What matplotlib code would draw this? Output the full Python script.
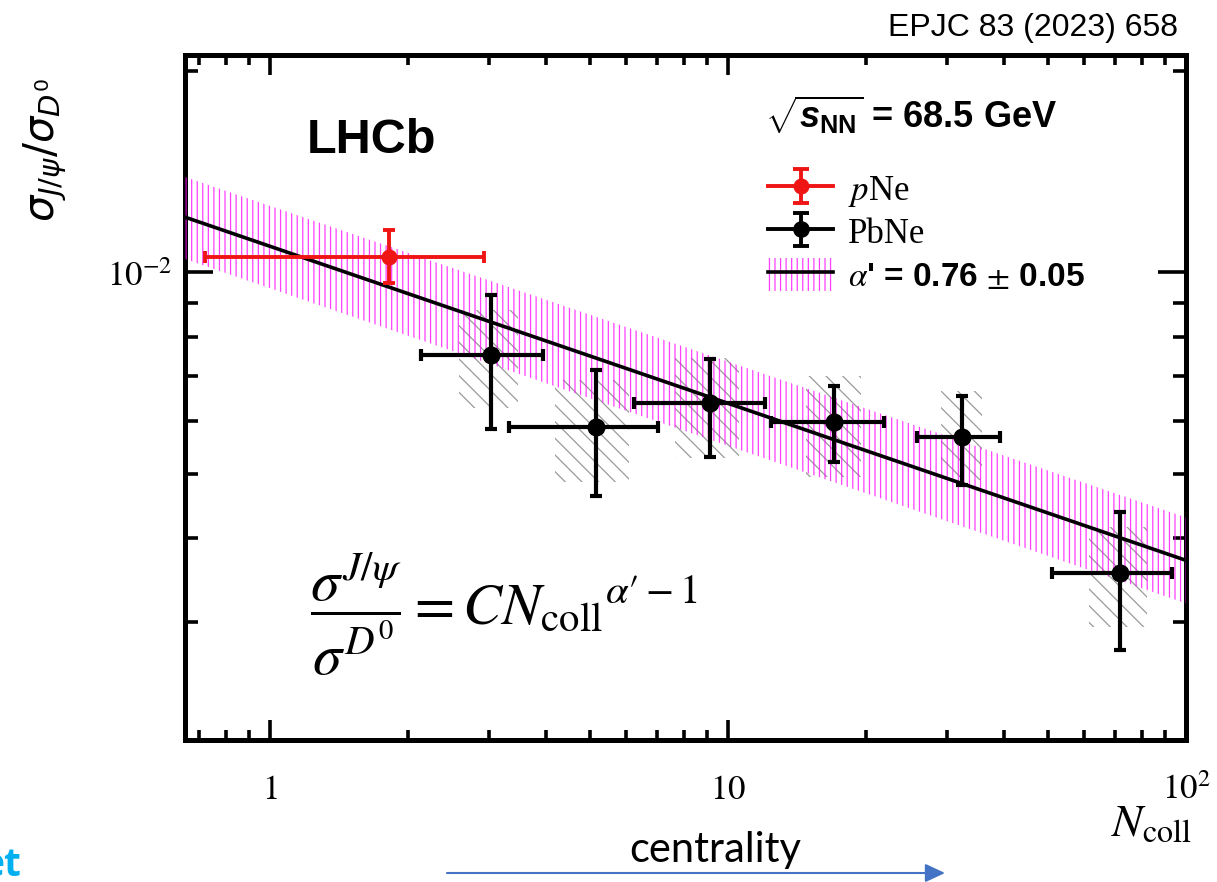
import numpy as np
import matplotlib
matplotlib.use("Agg")
import matplotlib.pyplot as plt
from matplotlib.ticker import LogLocator, NullFormatter, FixedLocator, FixedFormatter

W, H = 1217, 882

# ---------------- values ----------------
pne_x = [1.82]
pne_y = [0.01053]
pne_xlo = [0.721]
pne_xhi = [2.925]
pne_ylo = [0.00963]
pne_yhi = [0.01155]

pbne_x = [3.03, 5.14, 9.13, 17.06, 32.5, 71.7]
pbne_y = [7.51e-3, 5.87e-3, 6.37e-3, 5.97e-3, 5.67e-3, 3.55e-3]
pbne_xlo = [2.14, 3.32, 6.23, 12.42, 25.8, 50.9]
pbne_xhi = [3.94, 7.03, 12.05, 21.95, 39.2, 93.2]
pbne_ylo = [5.83e-3, 4.63e-3, 5.29e-3, 5.20e-3, 4.80e-3, 2.73e-3]
pbne_yhi = [9.24e-3, 7.14e-3, 7.41e-3, 6.75e-3, 6.53e-3, 4.38e-3]

# systematic (hatched) boxes
syst_xlo = [2.58, 4.20, 7.66, 14.82, 29.2, 61.3]
syst_xhi = [3.47, 6.07, 10.57, 19.55, 35.8, 82.2]
syst_ylo = [6.26e-3, 4.85e-3, 5.27e-3, 4.94e-3, 4.89e-3, 2.95e-3]
syst_yhi = [8.77e-3, 6.90e-3, 7.44e-3, 6.99e-3, 6.64e-3, 4.16e-3]

# power-law fit and its band (straight in log-log, so two ends are enough)
fit_x = [0.652, 100.0]
fit_y = [0.01208, 3.71e-3]
band_lo = [0.01046, 3.20e-3]
band_hi = [0.01387, 4.30e-3]

x_ticks = [1, 10, 100]
x_ticklabels = [r"$1$", r"$10$", r"$10^{2}$"]
y_ticks = [1e-2]
y_ticklabels = [r"$10^{-2}$"]

# ---------------- style ----------------
plt.rcParams["mathtext.fontset"] = "stix"
plt.rcParams["mathtext.rm"] = "Liberation Sans:bold"
plt.rcParams["mathtext.it"] = "Liberation Sans:bold:italic"
plt.rcParams["mathtext.bf"] = "Liberation Sans:bold"
plt.rcParams["hatch.linewidth"] = 0.9

MAGENTA = (1.0, 0.0, 1.0, 0.75)


def fx(px):
    return px / W


def fy(py):
    return 1 - py / H


fig = plt.figure(figsize=(W / 100, H / 100), dpi=100)
ax = fig.add_axes([fx(185), fy(740), (1186 - 185) / W, (740 - 55) / H])
ax.set_xscale("log")
ax.set_yscale("log")
ax.set_xlim(0.652, 100)
ax.set_ylim(2.0e-3, 0.0211)

# systematic boxes
sx_lo = np.array(syst_xlo)
sy_lo = np.array(syst_ylo)
ax.bar(sx_lo, np.array(syst_yhi) - sy_lo, width=np.array(syst_xhi) - sx_lo,
       bottom=sy_lo, align="edge", facecolor="none", edgecolor="#9a9a9a",
       linewidth=0, hatch="\\\\", zorder=2)

# fit band + line
with plt.rc_context({"hatch.color": MAGENTA}):
    band = ax.fill_between(fit_x, band_lo, band_hi, facecolor="none",
                           edgecolor=MAGENTA, linewidth=0, hatch="|||", zorder=3)
fit_line, = ax.plot(fit_x, fit_y, color="black", lw=2.6, zorder=4)

# data points
px = np.array(pne_x)
py = np.array(pne_y)
ax.errorbar(px, py, xerr=[px - np.array(pne_xlo), np.array(pne_xhi) - px],
            yerr=[py - np.array(pne_ylo), np.array(pne_yhi) - py],
            fmt="o", color="#f01515", ms=10.5, elinewidth=2.8, capsize=4.3,
            capthick=2.8, zorder=6)

bx = np.array(pbne_x)
by = np.array(pbne_y)
ax.errorbar(bx, by, xerr=[bx - np.array(pbne_xlo), np.array(pbne_xhi) - bx],
            yerr=[by - np.array(pbne_ylo), np.array(pbne_yhi) - by],
            fmt="o", color="black", ms=12, elinewidth=3.0, capsize=4.3,
            capthick=3.0, zorder=6)

# legend proxies (line across, vertical error bar with caps)
h_pne = ax.errorbar([np.nan], [np.nan], yerr=[[np.nan], [np.nan]], fmt="-o",
                    color="#f01515", ms=10.5, lw=2.8, elinewidth=2.8,
                    capsize=6, capthick=2.8)
h_pbne = ax.errorbar([np.nan], [np.nan], yerr=[[np.nan], [np.nan]], fmt="-o",
                     color="black", ms=11, lw=2.8, elinewidth=2.8,
                     capsize=6, capthick=2.8)
leg = ax.legend([h_pne, h_pbne, (band, fit_line)],
                [r"$p$Ne", "PbNe", r"$\alpha$' = 0.76 $\pm$ 0.05"],
                loc="upper left", bbox_to_anchor=(fx(768), fy(172)),
                bbox_transform=fig.transFigure, frameon=False, fontsize=24,
                borderpad=0, borderaxespad=0, handlelength=1.95,
                handleheight=1.15, handletextpad=0.45, labelspacing=0.2)
texts = leg.get_texts()
for t in texts[:2]:
    t.set_fontfamily("Liberation Serif")
    t.set_fontsize(25)
texts[2].set_fontfamily("Liberation Sans")
texts[2].set_fontweight("bold")
texts[2].set_fontsize(24)

# axes frame and ticks (ROOT-like)
for sp in ax.spines.values():
    sp.set_linewidth(3.6)
ax.xaxis.set_major_locator(FixedLocator(x_ticks))
ax.xaxis.set_major_formatter(FixedFormatter(x_ticklabels))
ax.yaxis.set_major_locator(FixedLocator(y_ticks))
ax.yaxis.set_major_formatter(FixedFormatter(y_ticklabels))
ax.xaxis.set_minor_locator(LogLocator(base=10, subs=np.arange(2, 10), numticks=20))
ax.yaxis.set_minor_locator(LogLocator(base=10, subs=np.arange(2, 10), numticks=20))
ax.xaxis.set_minor_formatter(NullFormatter())
ax.yaxis.set_minor_formatter(NullFormatter())
ax.tick_params(which="both", direction="in", top=True, right=True, width=2.6,
               labelsize=25)
ax.tick_params(axis="x", which="major", length=14.5, pad=23)
ax.tick_params(axis="x", which="minor", length=7.2)
ax.tick_params(axis="y", which="major", length=20.5, pad=9)
ax.tick_params(axis="y", which="minor", length=9.5)

# texts on the plot
fig.text(fx(307), fy(153), "LHCb", fontsize=35, fontweight="bold",
         family="Liberation Sans", va="baseline")
fig.text(fx(765), fy(128), r"$\sqrt{s_{\mathrm{NN}}}$ = 68.5 GeV", fontsize=26,
         fontweight="bold", family="Liberation Sans", va="baseline",
         math_fontfamily="custom")
fig.text(fx(1178), fy(36), "EPJC 83 (2023) 658", fontsize=23,
         family="Liberation Sans", ha="right", va="baseline")
fig.text(fx(1192), fy(836), r"$N_{\mathrm{coll}}$", fontsize=33,
         ha="right", va="baseline")
fig.text(fx(45), fy(150), r"$\sigma_{J/\psi}/\sigma_{D^0}$", fontsize=30,
         rotation=90, ha="center", va="center", math_fontfamily="dejavusans")

# formula overlay
fig.text(fx(310), fy(614),
         r"$\dfrac{\sigma^{J/\psi}}{\sigma^{D^0}} = C{N_{\mathrm{coll}}}^{\alpha\prime-1}$",
         fontsize=42, ha="left", va="center")

# centrality arrow overlay
fig.text(fx(715), fy(862), "centrality", fontsize=30, family="Lato",
         ha="center", va="baseline")
fig.add_artist(matplotlib.patches.FancyArrowPatch(
    (fx(447), fy(873)), (fx(945), fy(873)), transform=fig.transFigure,
    arrowstyle="-|>,head_length=0.6,head_width=0.28", mutation_scale=20,
    color="#4472c4", lw=1.5, shrinkA=0, shrinkB=0))

fig.text(fx(21), fy(876), "et", fontsize=28, fontweight="bold",
         family="Open Sans", color="#00b0f0", ha="right", va="baseline")

fig.savefig("out.png", dpi=100)
